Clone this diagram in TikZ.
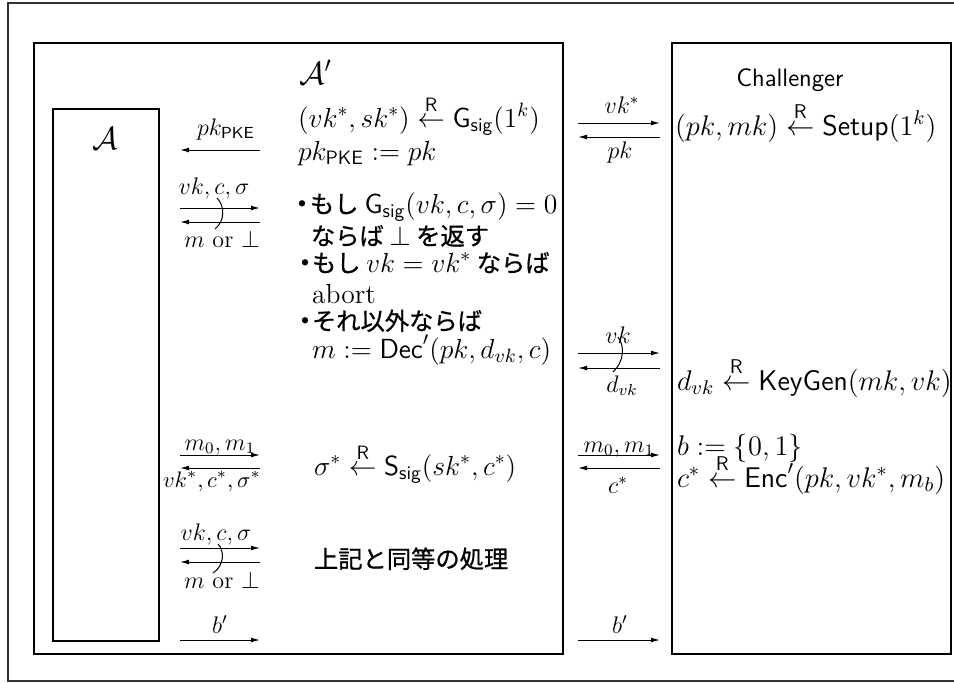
\RequirePackage{fix-cm}
\documentclass[tikz,border=0pt]{standalone}
\usepackage{amsmath}
\usepackage{fontspec}
\newfontfamily\jp[Scale=0.88,FakeBold=0.8]{Noto Sans CJK JP}
\usetikzlibrary{arrows.meta,fit}
\newcommand{\rget}{\stackrel{\mathsf{R}}{\leftarrow}}
\begin{document}
\begin{tikzpicture}[x=0.5pt,y=-0.5pt,
  every node/.style={inner sep=0pt, outer sep=0pt},
  box/.style={draw, line width=0.7pt, inner sep=0pt},
  msg/.style={-{Latex[length=4.5pt,width=2.4pt]}, line width=0.5pt},
  twist/.style={line width=0.5pt},
  lbl/.style={anchor=base, font=\fontsize{12}{14.4}\selectfont},
  txt/.style={anchor=base west, font=\fontsize{13.8}{16.5}\selectfont},
  ctxt/.style={anchor=base west, font=\fontsize{14.2}{17}\selectfont},
  dot/.style={anchor=base, font=\fontsize{16}{19}\selectfont\jp},
  ttl/.style={anchor=base west, font=\fontsize{16}{19}\selectfont}]
\useasboundingbox (0,0) rectangle (954,682);
% outer frame
\coordinate (f1) at (954,3);
\coordinate (f2) at (8,3);
\coordinate (f3) at (8,681);
\coordinate (f4) at (954,681);
\draw[line width=0.9pt, black!80] (f1) -- (f2) -- (f3) -- (f4);
% boxes
\coordinate (ap1) at (34,43); \coordinate (ap2) at (563,654);
\node (Aprime) [box, fit=(ap1)(ap2)] {};
\coordinate (a1) at (53,109); \coordinate (a2) at (159,641);
\node (Abox) [box, fit=(a1)(a2)] {};
\coordinate (c1) at (672,43); \coordinate (c2) at (951,654);
\node (Chal) [box, fit=(c1)(c2)] {};
% titles
\node (tAp) [ttl] at (299,84) {$\mathcal{A}'$};
\node (tA) [ttl] at (92,149) {$\mathcal{A}$};
\node (tC) [anchor=base, font=\fontsize{12.6}{15}\selectfont\sffamily] at (790,86) {Challenger};
% A' texts
\node (t1) [txt] at (298,127) {$(vk^*,sk^*)\rget\mathsf{G}_{\mathsf{sig}}(1^k)$};
\node (t2) [txt] at (298,160) {$pk_{\mathsf{PKE}}:=pk$};
\node (d3) [dot] at (302,214) {・};
\node (t3) [txt] at (310,213) {\jp もし\hspace{3pt}$\mathsf{G}_{\mathsf{sig}}(vk,c,\sigma)=0$};
\node (t4) [txt] at (311,245) {\jp ならば $\bot$ を返す};
\node (d5) [dot] at (305,273) {・};
\node (t5) [txt] at (312,272) {\jp もし $vk=vk^*$ ならば};
\node (t6) [txt] at (312,303) {abort};
\node (d7) [dot] at (305,331) {・};
\node (t7) [txt] at (312,330) {\jp それ以外ならば};
\node (t8) [txt] at (312,358) {$m:=\mathsf{Dec}'(pk,d_{vk},c)$};
\node (t9) [txt] at (314,475) {$\sigma^*\rget\mathsf{S}_{\mathsf{sig}}(sk^*,c^*)$};
\node (t10) [txt] at (314,568) {\jp 上記と同等の処理};
% Challenger texts
\node (u1) [ctxt] at (675,135) {$(pk,mk)\rget\mathsf{Setup}(1^k)$};
\node (u2) [ctxt] at (677,390) {$d_{vk}\rget\mathsf{KeyGen}(mk,vk)$};
\node (u3) [ctxt] at (677,455) {$b:=\{0,1\}$};
\node (u4) [ctxt] at (677,487) {$c^*\rget\mathsf{Enc}'(pk,vk^*,m_b)$};
% ---- left message arrows (A <-> A')
\coordinate (L1a) at (260,150); \coordinate (L1b) at (180,150);
\draw[msg] (L1a) -- (L1b);
\node (m1) [lbl] at (226,135) {$pk_{\mathsf{PKE}}$};

\coordinate (L2a) at (180,208); \coordinate (L2b) at (260,208);
\coordinate (L2c) at (260,222); \coordinate (L2d) at (180,222);
\draw[msg] (L2a) -- (L2b);
\draw[msg] (L2c) -- (L2d);
\coordinate (k1a) at (217,198); \coordinate (k1b) at (215,229);
\draw[twist] (k1a) .. controls (225,206) and (225,221) .. (k1b);
\node (m2) [lbl] at (214,194) {$vk,c,\sigma$};
\node (m3) [lbl] at (222,247) {$m\ \mathrm{or}\ \bot$};

\coordinate (L3a) at (180,455); \coordinate (L3b) at (260,455);
\coordinate (L3c) at (260,468); \coordinate (L3d) at (180,468);
\draw[msg] (L3a) -- (L3b);
\draw[msg] (L3c) -- (L3d);
\node (m4) [lbl] at (220,450) {$m_0,m_1$};
\node (m5) [lbl, font=\fontsize{11.2}{13.5}\selectfont] at (212,487) {$vk^*,c^*,\sigma^*$};

\coordinate (L4a) at (180,548); \coordinate (L4b) at (260,548);
\coordinate (L4c) at (260,562); \coordinate (L4d) at (180,562);
\draw[msg] (L4a) -- (L4b);
\draw[msg] (L4c) -- (L4d);
\coordinate (k2a) at (218,544); \coordinate (k2b) at (213,573);
\draw[twist] (k2a) .. controls (225,551) and (224,566) .. (k2b);
\node (m6) [lbl] at (216,540) {$vk,c,\sigma$};
\node (m7) [lbl] at (222,588) {$m\ \mathrm{or}\ \bot$};

\coordinate (L5a) at (180,640); \coordinate (L5b) at (260,640);
\draw[msg] (L5a) -- (L5b);
\node (m8) [lbl] at (220,633) {$b'$};

% ---- right message arrows (A' <-> Challenger)
\coordinate (R1a) at (578,123); \coordinate (R1b) at (660,123);
\coordinate (R1c) at (660,137); \coordinate (R1d) at (578,137);
\draw[msg] (R1a) -- (R1b);
\draw[msg] (R1c) -- (R1d);
\node (n1) [lbl] at (622,113) {$vk^*$};
\node (n2) [lbl] at (620,158) {$pk$};

\coordinate (R2a) at (578,353); \coordinate (R2b) at (660,353);
\coordinate (R2c) at (660,368); \coordinate (R2d) at (578,368);
\draw[msg] (R2a) -- (R2b);
\draw[msg] (R2c) -- (R2d);
\coordinate (k3a) at (618,337); \coordinate (k3b) at (613,372);
\draw[twist] (k3a) .. controls (625,346) and (624,362) .. (k3b);
\node (n3) [lbl] at (618,343) {$vk$};
\node (n4) [lbl] at (622,392) {$d_{vk}$};

\coordinate (R3a) at (578,455); \coordinate (R3b) at (660,455);
\coordinate (R3c) at (660,468); \coordinate (R3d) at (578,468);
\draw[msg] (R3a) -- (R3b);
\draw[msg] (R3c) -- (R3d);
\node (n5) [lbl] at (619,452) {$m_0,m_1$};
\node (n6) [lbl] at (618,493) {$c^*$};

\coordinate (R4a) at (578,640); \coordinate (R4b) at (660,640);
\draw[msg] (R4a) -- (R4b);
\node (n7) [lbl] at (620,633) {$b'$};
\end{tikzpicture}
\end{document}
